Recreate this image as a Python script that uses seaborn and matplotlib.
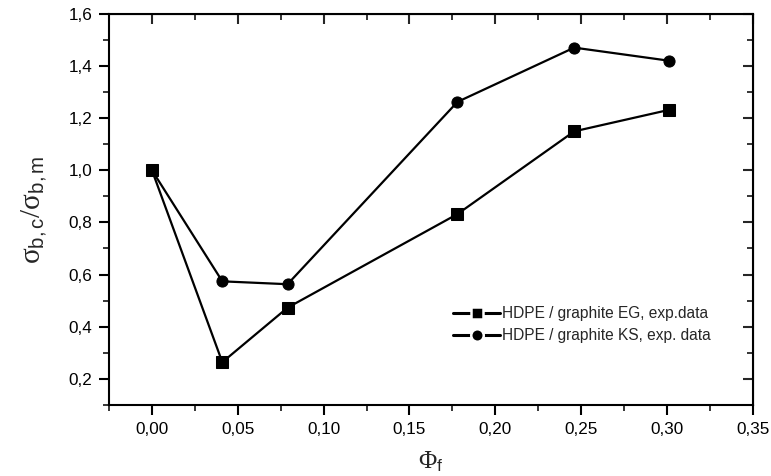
import matplotlib
matplotlib.use("Agg")
import matplotlib.pyplot as plt
import seaborn as sns
import pandas as pd
from matplotlib.ticker import MultipleLocator, FuncFormatter

phi = [0.0, 0.041, 0.079, 0.178, 0.246, 0.301]
eg_vals = [1.0, 0.264, 0.473, 0.832, 1.149, 1.231]
ks_vals = [1.0, 0.574, 0.563, 1.262, 1.470, 1.420]
series_names = ["HDPE / graphite EG, exp.data", "HDPE / graphite KS, exp. data"]
x_ticks = [0.00, 0.05, 0.10, 0.15, 0.20, 0.25, 0.30, 0.35]
y_ticks = [0.2, 0.4, 0.6, 0.8, 1.0, 1.2, 1.4, 1.6]

df = pd.DataFrame({
    "phi": phi + phi,
    "val": eg_vals + ks_vals,
    "series": [series_names[0]] * len(phi) + [series_names[1]] * len(phi),
})

sns.set_style("ticks")
plt.rcParams["font.family"] = ["Liberation Sans", "DejaVu Sans"]
plt.rcParams["mathtext.fontset"] = "custom"
plt.rcParams["mathtext.rm"] = "Liberation Serif"
plt.rcParams["mathtext.it"] = "Liberation Serif:italic"
plt.rcParams["mathtext.sf"] = "Liberation Sans"

fig = plt.figure(figsize=(7.71, 4.76), dpi=100)
ax = fig.add_axes([0.1414, 0.1492, 0.9763 - 0.1414, 0.9712 - 0.1492])

sns.lineplot(data=df, x="phi", y="val", hue="series", style="series",
             markers={series_names[0]: "s", series_names[1]: "o"},
             dashes=False, palette={series_names[0]: "black", series_names[1]: "black"},
             markersize=8, linewidth=1.6, markeredgecolor="black", ax=ax,
             hue_order=series_names, style_order=series_names)

ax.set_xlim(-0.025, 0.35)
ax.set_ylim(0.1, 1.6)
ax.set_xticks(x_ticks)
ax.set_yticks(y_ticks)
ax.xaxis.set_minor_locator(MultipleLocator(0.025))
ax.yaxis.set_minor_locator(MultipleLocator(0.1))
fmt2 = FuncFormatter(lambda v, p: f"{v:.2f}".replace(".", ","))
fmt1 = FuncFormatter(lambda v, p: f"{v:.1f}".replace(".", ","))
ax.xaxis.set_major_formatter(fmt2)
ax.yaxis.set_major_formatter(fmt1)

for s in ax.spines.values():
    s.set_linewidth(1.5)
    s.set_color("black")

ax.tick_params(which="major", direction="out", length=7, width=1.5, labelsize=12.3, colors="black",
               bottom=True, left=True, top=False, right=False, pad=5)
ax.tick_params(which="minor", direction="out", length=4, width=1.3,
               bottom=True, left=True, top=False, right=False)

axt = ax.secondary_xaxis("top")
axt.set_xticks(x_ticks)
axt.xaxis.set_minor_locator(MultipleLocator(0.025))
axt.tick_params(which="major", direction="in", length=7, width=1.5, labeltop=False)
axt.tick_params(which="minor", direction="in", length=4, width=1.3)
axr = ax.secondary_yaxis("right")
axr.set_yticks(y_ticks)
axr.yaxis.set_minor_locator(MultipleLocator(0.1))
axr.tick_params(which="major", direction="in", length=7, width=1.5, labelright=False)
axr.tick_params(which="minor", direction="in", length=4, width=1.3)

ax.set_xlabel(r"$\mathrm{\Phi}_{\mathsf{f}}$", fontsize=18, labelpad=9)
ax.set_ylabel(r"$\mathrm{\sigma}_{\mathsf{b,c}}/\mathrm{\sigma}_{\mathsf{b,m}}$", fontsize=21, labelpad=14)

leg = ax.legend(loc="lower right", bbox_to_anchor=(0.945, 0.142), frameon=False,
                fontsize=11.2, handlelength=3.0, handletextpad=0.15, labelspacing=0.45,
                borderaxespad=0)
for h in leg.legend_handles:
    h.set_markersize(9)
    h.set_markeredgecolor("white")
    h.set_markeredgewidth(1.8)
    h.set_linewidth(2.2)

fig.savefig("out.png", dpi=100)
